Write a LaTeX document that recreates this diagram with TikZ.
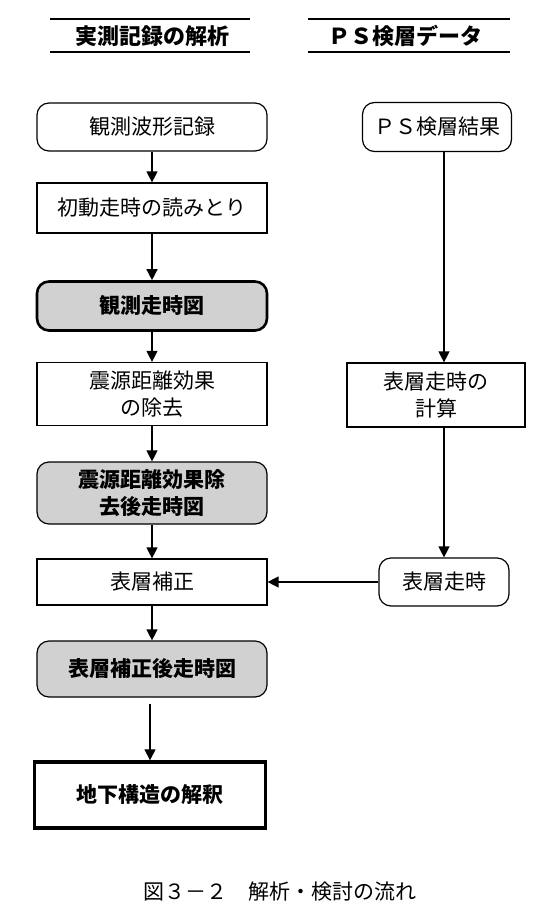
\documentclass[tikz,border=0pt]{standalone}
\usepackage{fontspec}
\setmainfont{Noto Sans CJK JP}
\usetikzlibrary{arrows.meta}

\begin{document}
\begin{tikzpicture}[x=1pt,y=-1pt,
    every node/.style={font=\fontsize{21}{27}\selectfont, inner sep=0pt, align=center},
    plainbox/.style={draw, line width=1.2pt, minimum width=230pt},
    roundbox/.style={plainbox, rounded corners=12pt},
    shadebox/.style={roundbox, fill=black!18, font=\fontsize{21}{27}\selectfont\bfseries},
    flow/.style={line width=1.3pt, -{Triangle[length=11pt,width=11pt]}},
    hdr/.style={line width=2.8pt}]
  \useasboundingbox (0,0) rectangle (559,918);

  % headers
  \draw[hdr] (50,19) -- (250,19);
  \draw[hdr] (50,52) -- (250,52);
  \draw[hdr] (308,19) -- (510,19);
  \draw[hdr] (308,52) -- (510,52);
  \node[font=\fontsize{22}{26}\selectfont\bfseries] (hleft) at (152,36) {実測記録の解析};
  \node[font=\fontsize{22}{26}\selectfont\bfseries] (hright) at (405,36) {ＰＳ検層データ};

  % left column
  \node[roundbox, minimum height=48pt] (obs) at (152,127) {観測波形記録};
  \node[plainbox, minimum height=50pt] (pick) at (152,208) {初動走時の読みとり};
  \node[shadebox, line width=2.6pt, minimum height=49pt] (obstt) at (152,306) {観測走時図};
  \node[plainbox, minimum height=63pt] (dist) at (152,394) {震源距離効果\\の除去};
  \node[shadebox, minimum height=62pt] (disttt) at (152,493) {震源距離効果除\\去後走時図};
  \node[plainbox, minimum height=46pt] (corr) at (152,582) {表層補正};
  \node[shadebox, minimum height=56pt] (corrtt) at (152,669) {表層補正後走時図};
  \node[plainbox, line width=3.4pt, minimum width=231pt, minimum height=66pt,
        font=\fontsize{21}{27}\selectfont\bfseries] (interp) at (150,795) {地下構造の解釈};

  % right column
  \node[roundbox, minimum width=149pt, minimum height=49pt] (ps) at (437,127) {ＰＳ検層結果};
  \node[plainbox, minimum width=178pt, minimum height=64pt] (calc) at (436,395) {表層走時の\\計算};
  \node[roundbox, minimum width=130pt, minimum height=48pt] (surf) at (444,582) {表層走時};

  \draw[flow] (obs) -- (pick);
  \draw[flow] (pick) -- (obstt);
  \draw[flow] (obstt) -- (dist);
  \draw[flow] (dist) -- (disttt);
  \draw[flow] (disttt) -- (corr);
  \draw[flow] (corr) -- (corrtt);
  \draw[flow, shorten <=6pt] (corrtt.south -| interp.north) -- (interp.north);
  \draw[flow] (ps.south -| surf.north) -- (calc.north -| surf.north);
  \draw[flow] (calc.south -| surf.north) -- (surf.north);
  \draw[flow] (surf.west) -- (surf.west -| corr.east);

  \node[font=\fontsize{21}{27}\selectfont] (cap) at (280,892) {図３－２　解析・検討の流れ};
\end{tikzpicture}
\end{document}
